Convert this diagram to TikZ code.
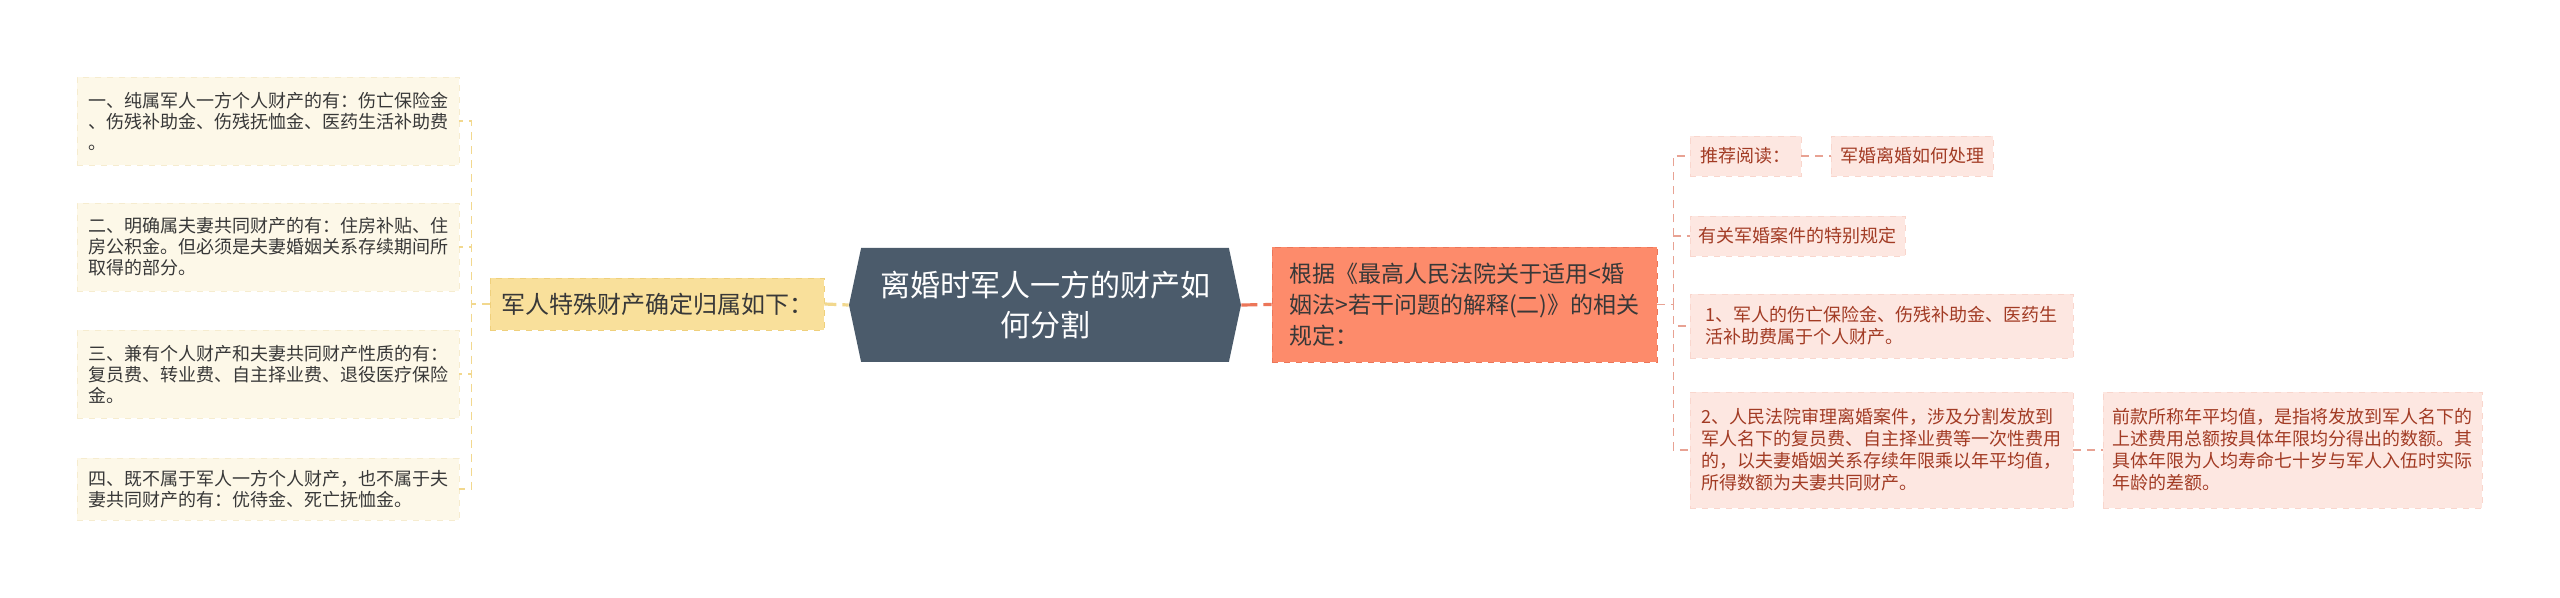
\documentclass[tikz,border=0pt]{standalone}
\usepackage{fontspec}
\setmainfont{Noto Sans CJK SC}
\usetikzlibrary{shapes.symbols}
\definecolor{creamfill}{HTML}{FDF8E8}
\definecolor{creamline}{HTML}{F6ECCF}
\definecolor{goldfill}{HTML}{F9E09B}
\definecolor{goldline}{HTML}{EFD07C}
\definecolor{goldedge}{HTML}{F2D88E}
\definecolor{slate}{HTML}{4B5B6B}
\definecolor{coral}{HTML}{FD8B6B}
\definecolor{coralline}{HTML}{EC7659}
\definecolor{pinkfill}{HTML}{FDE7E1}
\definecolor{pinkline}{HTML}{F9D6CD}
\definecolor{pinkedge}{HTML}{E8A293}
\definecolor{rusttext}{HTML}{A23B24}
\definecolor{greytext}{HTML}{383838}

\begin{document}
\begin{tikzpicture}[x=0.5pt, y=-0.5pt, nodes={inner sep=0pt, align=left},
    leftleaf/.style={fill=creamfill, draw=creamline, dashed, minimum width=191pt,
      font=\fontsize{9}{10.5}\selectfont, text=greytext},
    rightleaf/.style={fill=pinkfill, draw=pinkline, dashed, minimum height=20pt,
      font=\fontsize{9}{11}\selectfont, text=rusttext},
    leftedge/.style={draw=goldedge, line width=0.8pt, dash pattern=on 4pt off 3pt},
    rightedge/.style={draw=pinkedge, line width=0.8pt, dash pattern=on 4pt off 3pt}]
  \fill[white] (0,0) rectangle (2560,598);
  \useasboundingbox (0,0) rectangle (2560,598);

  % centre and the two main branches
  \node[signal, signal to=west and east, signal pointer angle=156, fill=slate,
    text=white, align=center, minimum width=196pt, minimum height=57pt,
    font=\fontsize{15}{20}\selectfont] (root) at (1045,305)
    {离婚时军人一方的财产如\\何分割};
  \node[fill=goldfill, draw=goldline, dashed, minimum width=167pt, minimum height=26pt,
    font=\fontsize{12}{15}\selectfont, text=greytext] (rule) at (657,304)
    {军人特殊财产确定归属如下：};
  \node[fill=coral, draw=coralline, dashed, minimum width=192.5pt, minimum height=57.5pt,
    font=\fontsize{11.5}{15.5}\selectfont, text=greytext] (law) at (1464.5,304.5)
    {根据《最高人民法院关于适用<婚\\姻法>若干问题的解释(二)》的相关\\规定：};

  % left leaves
  \node[leftleaf, minimum height=44pt] (own) at (268,121)
    {一、纯属军人一方个人财产的有：伤亡保险金\\、伤残补助金、伤残抚恤金、医药生活补助费\\。};
  \node[leftleaf, minimum height=44pt] (common) at (268,247)
    {二、明确属夫妻共同财产的有：住房补贴、住\\房公积金。但必须是夫妻婚姻关系存续期间所\\取得的部分。};
  \node[leftleaf, minimum height=44pt] (mixed) at (268,374)
    {三、兼有个人财产和夫妻共同财产性质的有：\\复员费、转业费、自主择业费、退役医疗保险\\金。};
  \node[leftleaf, minimum height=31pt] (neither) at (268,489)
    {四、既不属于军人一方个人财产，也不属于夫\\妻共同财产的有：优待金、死亡抚恤金。};

  % right leaves
  \node[rightleaf, minimum width=55.5pt] (read) at (1745.5,156) {推荐阅读：};
  \node[rightleaf, minimum width=81pt] (link) at (1912,156) {军婚离婚如何处理};
  \node[rightleaf, minimum width=107.5pt] (special) at (1797.5,236) {有关军婚案件的特别规定};
  \node[rightleaf, minimum width=191.5pt, minimum height=32pt] (first) at (1881.5,326)
    {1、军人的伤亡保险金、伤残补助金、医药生\\活补助费属于个人财产。};
  \node[rightleaf, minimum width=191.5pt, minimum height=58pt] (second) at (1881.5,450)
    {2、人民法院审理离婚案件，涉及分割发放到\\军人名下的复员费、自主择业费等一次性费用\\的，以夫妻婚姻关系存续年限乘以年平均值，\\所得数额为夫妻共同财产。};
  \node[rightleaf, minimum width=189.5pt, minimum height=58pt] (average) at (2292.5,450)
    {前款所称年平均值，是指将发放到军人名下的\\上述费用总额按具体年限均分得出的数额。其\\具体年限为人均寿命七十岁与军人入伍时实际\\年龄的差额。};

  % connectors
  \draw[goldedge, line width=1.6pt, dash pattern=on 6pt off 3pt] (rule.east) -- (root.west);
  \draw[coralline, line width=1.6pt, dash pattern=on 8pt off 3pt] (root.east) -- (law.west);
  \foreach \leaf in {own, common, mixed, neither}
    \draw[leftedge] (rule.west) -- ++(-18,0) |- (\leaf.east);
  \foreach \leaf in {read, special, first, second}
    \draw[rightedge] (law.east) -- ++(16,0) |- (\leaf.west);
  \draw[rightedge] (read.east) -- (link.west);
  \draw[rightedge] (second.east) -- (average.west);
\end{tikzpicture}
\end{document}
